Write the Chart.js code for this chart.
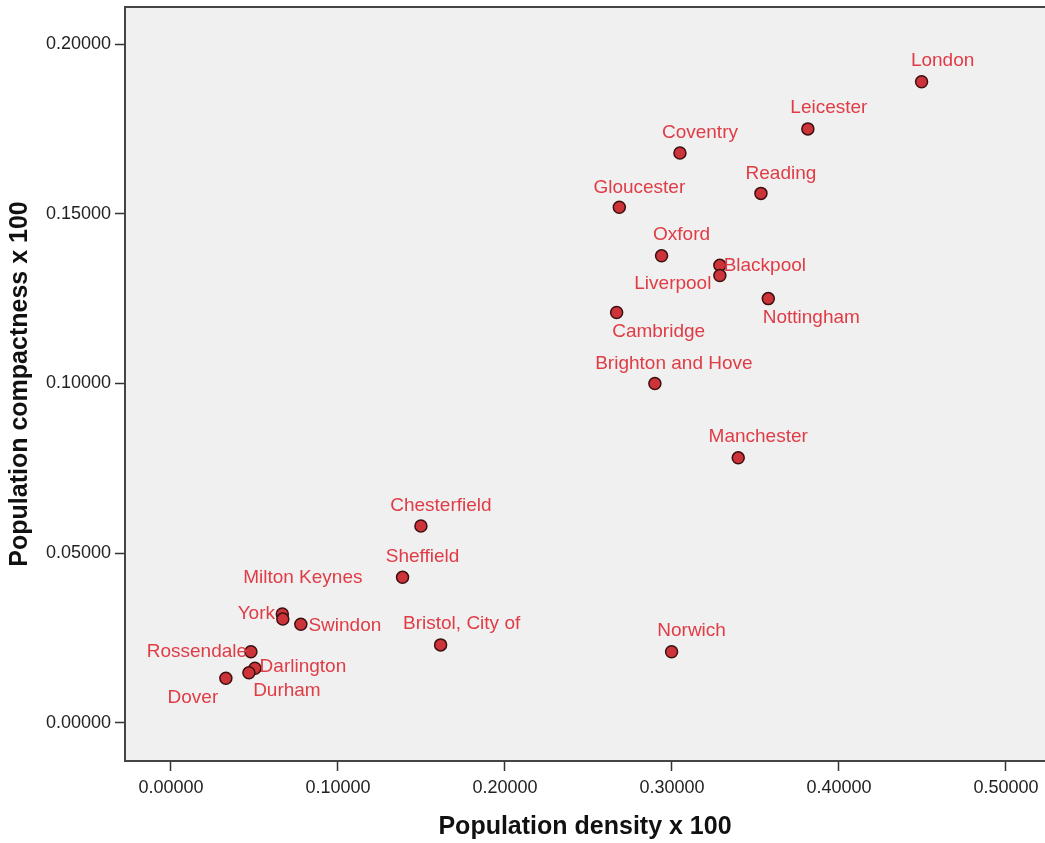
<!DOCTYPE html>
<html>
<head>
<meta charset="utf-8">
<script src="https://cdn.jsdelivr.net/npm/chart.js@4.4.1/dist/chart.umd.min.js"></script>
<style>
  body { margin: 0; background: #fff; }
  #wrap { width: 1045px; height: 843px; }
</style>
</head>
<body>
<div id="wrap"><canvas id="myChart" width="1045" height="843"></canvas></div>
<script>
// data
const cities = ['London', 'Leicester', 'Coventry', 'Reading', 'Gloucester', 'Oxford', 'Blackpool', 'Liverpool',
    'Nottingham', 'Cambridge', 'Brighton and Hove', 'Manchester', 'Norwich', 'Chesterfield', 'Sheffield',
    'Bristol, City of', 'York', 'Milton Keynes', 'Swindon', 'Rossendale', 'Darlington', 'Durham', 'Dover'];
const density = [0.4495, 0.3814, 0.3048, 0.3533, 0.2685, 0.2938, 0.3287, 0.3287,
    0.3577, 0.2669, 0.2898, 0.3397, 0.2998, 0.1497, 0.1387,
    0.1615, 0.0667, 0.0670, 0.0778, 0.0479, 0.0503, 0.0467, 0.0329];
const compactness = [0.1889, 0.1750, 0.1679, 0.1560, 0.1519, 0.1376, 0.1348, 0.1318,
    0.1250, 0.1209, 0.1000, 0.0781, 0.0210, 0.0580, 0.0429,
    0.0230, 0.0321, 0.0306, 0.0291, 0.0210, 0.0161, 0.0148, 0.0132];
const xTicks = [0, 0.1, 0.2, 0.3, 0.4, 0.5];
const yTicks = [0, 0.05, 0.1, 0.15, 0.2];

// where each label sits relative to its marker (style only)
const labelPlacement = {
    'London': [21, -21], 'Leicester': [21, -21], 'Coventry': [20, -20], 'Reading': [20, -20],
    'Gloucester': [20, -20], 'Oxford': [20, -21], 'Blackpool': [45, 0], 'Liverpool': [-47, 8],
    'Nottingham': [43, 19], 'Cambridge': [42, 19], 'Brighton and Hove': [19, -20], 'Manchester': [20, -21],
    'Norwich': [20, -21], 'Chesterfield': [20, -20], 'Sheffield': [20, -21], 'Bristol, City of': [21, -21],
    'York': [-26, 0], 'Milton Keynes': [20, -41], 'Swindon': [44, 2], 'Rossendale': [-54, 0],
    'Darlington': [48, -2], 'Durham': [38, 18], 'Dover': [-33, 20]
};

const FONT = "'Liberation Sans', Arial, sans-serif";

const frame = {
    id: 'frame',
    beforeDraw(chart) {
        const { ctx, chartArea: a } = chart;
        ctx.save();
        ctx.fillStyle = '#f0f0f0';
        ctx.fillRect(a.left, a.top, a.right - a.left, a.bottom - a.top);
        ctx.restore();
    },
    afterDraw(chart) {
        const { ctx, chartArea: a } = chart;
        ctx.save();
        ctx.strokeStyle = '#444';
        ctx.lineWidth = 2;
        ctx.beginPath();
        ctx.moveTo(a.left, a.top);
        ctx.lineTo(a.right, a.top);
        ctx.stroke();
        ctx.restore();
    }
};

const pointLabels = {
    id: 'pointLabels',
    afterDatasetsDraw(chart) {
        const { ctx } = chart;
        const meta = chart.getDatasetMeta(0);
        ctx.save();
        ctx.font = '19px ' + FONT;
        ctx.fillStyle = '#e03c46';
        ctx.textAlign = 'center';
        ctx.textBaseline = 'middle';
        meta.data.forEach((pt, i) => {
            const off = labelPlacement[cities[i]] || [20, -20];
            ctx.fillText(cities[i], pt.x + off[0], pt.y + off[1]);
        });
        ctx.restore();
    }
};

const ctx = document.getElementById('myChart').getContext('2d');
new Chart(ctx, {
    type: 'scatter',
    data: {
        datasets: [{
            data: density.map((d, i) => ({ x: d, y: compactness[i] })),
            backgroundColor: '#cc343a',
            borderColor: '#3d1010',
            borderWidth: 1.5,
            pointRadius: 6,
            pointHoverRadius: 6
        }]
    },
    options: {
        responsive: false,
        animation: false,
        layout: { autoPadding: false, padding: { top: 7, right: 0, left: 0, bottom: 0 } },
        plugins: { legend: { display: false }, tooltip: { enabled: false } },
        scales: {
            x: {
                type: 'linear',
                min: -0.0275,
                max: 0.5234,
                afterBuildTicks: s => { s.ticks = xTicks.map(v => ({ value: v })); },
                afterFit: s => { s.height = 82; s.paddingLeft = 0; s.paddingRight = 0; },
                grid: { drawOnChartArea: false, drawTicks: true, tickLength: 10, tickColor: '#333', tickWidth: 1.5 },
                border: { display: true, color: '#444', width: 2 },
                ticks: {
                    padding: 6,
                    color: '#222',
                    font: { family: FONT, size: 18 },
                    maxRotation: 0,
                    callback: v => v.toFixed(5)
                },
                title: {
                    display: true,
                    text: 'Population density x 100',
                    color: '#111',
                    font: { family: FONT, size: 25, weight: 'bold' },
                    padding: { top: 0, bottom: 1 }
                }
            },
            y: {
                type: 'linear',
                min: -0.0112,
                max: 0.2109,
                afterBuildTicks: s => { s.ticks = yTicks.map(v => ({ value: v })); },
                afterFit: s => { s.width = 125; s.paddingTop = 0; s.paddingBottom = 0; },
                grid: { drawOnChartArea: false, drawTicks: true, tickLength: 10, tickColor: '#333', tickWidth: 1.5 },
                border: { display: true, color: '#444', width: 2 },
                ticks: {
                    padding: 4,
                    color: '#222',
                    font: { family: FONT, size: 18 },
                    callback: v => v.toFixed(5)
                },
                title: {
                    display: true,
                    text: 'Population compactness x 100',
                    color: '#111',
                    font: { family: FONT, size: 25, weight: 'bold' },
                    padding: { top: 5, bottom: 0 }
                }
            }
        }
    },
    plugins: [frame, pointLabels]
});
</script>
</body>
</html>
